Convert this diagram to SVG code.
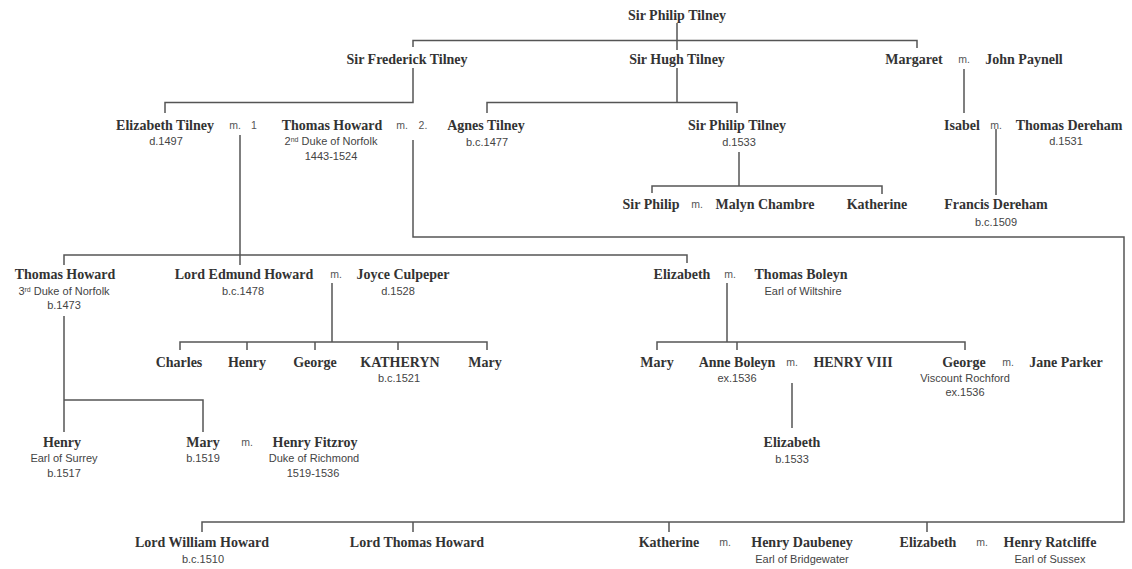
<svg xmlns="http://www.w3.org/2000/svg" width="1132" height="569" viewBox="0 0 1132 569">
  <style>
    .n { font-family: "Liberation Serif", "Times New Roman", serif; font-weight: bold; font-size: 14px; fill: #333; text-anchor: middle; }
    .s { font-family: "Liberation Sans", Arial, sans-serif; font-size: 11px; fill: #444; text-anchor: middle; }
    .m { font-family: "Liberation Sans", Arial, sans-serif; font-size: 10.5px; fill: #555; text-anchor: middle; }
    .sup { font-size: 7px; }
    .c { fill: none; stroke: #555; stroke-width: 1.5; }
  </style>
  <rect width="1132" height="569" fill="#fff"/>

  <!-- family lines -->
  <g id="connectors" class="c">
    <!-- Sir Philip Tilney's children -->
    <path d="M677 23V50M413 47V40.5H917V48"/>
    <!-- Sir Frederick Tilney -> Elizabeth -->
    <path d="M413 68V102.5H165V113"/>
    <!-- Sir Hugh Tilney -> Agnes, Sir Philip -->
    <path d="M677 68V102.5M487 113V102.5H737V113"/>
    <!-- Margaret & John Paynell -> Isabel -->
    <path d="M964 69V113"/>
    <!-- Isabel & Thomas Dereham -> Francis -->
    <path d="M996 129V195"/>
    <!-- Sir Philip Tilney (d.1533) -> Sir Philip, Katherine -->
    <path d="M739 152V186M652 193V186H882V194"/>
    <!-- first marriage -->
    <path d="M240 135V265M64 265V255H687V263"/>
    <!-- second marriage -->
    <path d="M413 140V237H1124V522H202V532M413 522V532M669 522V532M927 522V532"/>
    <!-- Lord Edmund Howard & Joyce Culpeper -->
    <path d="M332 283V342M180 350V342H487V350M247 342V350M315 342V350M398 342V350"/>
    <!-- Elizabeth & Thomas Boleyn -->
    <path d="M727 283V342M657 350V342H965V350M737 342V350"/>
    <!-- Thomas Howard, 3rd Duke -->
    <path d="M64 316V432M64 400H203V432"/>
    <!-- Anne Boleyn & Henry VIII -->
    <path d="M792 383V428"/>
  </g>

  <!-- marriage marks -->
  <g id="marriages">
    <text class="m" x="964" y="63">m.</text>
    <text class="m" x="235" y="129">m.</text>
    <text class="m" x="254" y="129">1</text>
    <text class="m" x="402" y="129">m.</text>
    <text class="m" x="423" y="129">2.</text>
    <text class="m" x="996" y="129">m.</text>
    <text class="m" x="697" y="208">m.</text>
    <text class="m" x="336" y="278">m.</text>
    <text class="m" x="730" y="278">m.</text>
    <text class="m" x="792" y="366">m.</text>
    <text class="m" x="1008" y="366">m.</text>
    <text class="m" x="247" y="446">m.</text>
    <text class="m" x="725" y="546">m.</text>
    <text class="m" x="982" y="546">m.</text>
  </g>

  <!-- generation 1 -->
  <g id="sir-philip-tilney"><text class="n" x="677" y="20">Sir Philip Tilney</text></g>

  <!-- generation 2 -->
  <g id="sir-frederick-tilney"><text class="n" x="407" y="64">Sir Frederick Tilney</text></g>
  <g id="sir-hugh-tilney"><text class="n" x="677" y="64">Sir Hugh Tilney</text></g>
  <g id="margaret"><text class="n" x="914" y="64">Margaret</text></g>
  <g id="john-paynell"><text class="n" x="1024" y="64">John Paynell</text></g>

  <!-- generation 3 -->
  <g id="elizabeth-tilney">
    <text class="n" x="165" y="130">Elizabeth Tilney</text>
    <text class="s" x="166" y="145">d.1497</text>
  </g>
  <g id="thomas-howard-2nd">
    <text class="n" x="332" y="130">Thomas Howard</text>
    <text class="s" x="331" y="145">2<tspan class="sup" baseline-shift="super">nd</tspan> Duke of Norfolk</text>
    <text class="s" x="331" y="160">1443-1524</text>
  </g>
  <g id="agnes-tilney">
    <text class="n" x="486" y="130">Agnes Tilney</text>
    <text class="s" x="487" y="146">b.c.1477</text>
  </g>
  <g id="sir-philip-tilney-d1533">
    <text class="n" x="737" y="130">Sir Philip Tilney</text>
    <text class="s" x="739" y="146">d.1533</text>
  </g>
  <g id="isabel"><text class="n" x="962" y="130">Isabel</text></g>
  <g id="thomas-dereham">
    <text class="n" x="1069" y="130">Thomas Dereham</text>
    <text class="s" x="1066" y="145">d.1531</text>
  </g>

  <!-- generation 4 (Tilney / Dereham) -->
  <g id="sir-philip"><text class="n" x="651" y="209">Sir Philip</text></g>
  <g id="malyn-chambre"><text class="n" x="765" y="209">Malyn Chambre</text></g>
  <g id="katherine-tilney"><text class="n" x="877" y="209">Katherine</text></g>
  <g id="francis-dereham">
    <text class="n" x="996" y="209">Francis Dereham</text>
    <text class="s" x="996" y="226">b.c.1509</text>
  </g>

  <!-- Howard children -->
  <g id="thomas-howard-3rd">
    <text class="n" x="65" y="279">Thomas Howard</text>
    <text class="s" x="64" y="295">3<tspan class="sup" baseline-shift="super">rd</tspan> Duke of Norfolk</text>
    <text class="s" x="64" y="309">b.1473</text>
  </g>
  <g id="lord-edmund-howard">
    <text class="n" x="244" y="279">Lord Edmund Howard</text>
    <text class="s" x="243" y="295">b.c.1478</text>
  </g>
  <g id="joyce-culpeper">
    <text class="n" x="403" y="279">Joyce Culpeper</text>
    <text class="s" x="398" y="295">d.1528</text>
  </g>
  <g id="elizabeth-howard"><text class="n" x="682" y="279">Elizabeth</text></g>
  <g id="thomas-boleyn">
    <text class="n" x="801" y="279">Thomas Boleyn</text>
    <text class="s" x="803" y="295">Earl of Wiltshire</text>
  </g>

  <!-- Culpeper children -->
  <g id="charles"><text class="n" x="179" y="367">Charles</text></g>
  <g id="henry-culpeper"><text class="n" x="247" y="367">Henry</text></g>
  <g id="george-culpeper"><text class="n" x="315" y="367">George</text></g>
  <g id="katheryn">
    <text class="n" x="400" y="367">KATHERYN</text>
    <text class="s" x="399" y="382">b.c.1521</text>
  </g>
  <g id="mary-culpeper"><text class="n" x="485" y="367">Mary</text></g>

  <!-- Boleyn children -->
  <g id="mary-boleyn"><text class="n" x="657" y="367">Mary</text></g>
  <g id="anne-boleyn">
    <text class="n" x="737" y="367">Anne Boleyn</text>
    <text class="s" x="737" y="382">ex.1536</text>
  </g>
  <g id="henry-viii"><text class="n" x="853" y="367">HENRY VIII</text></g>
  <g id="george-boleyn">
    <text class="n" x="964" y="367">George</text>
    <text class="s" x="965" y="382">Viscount Rochford</text>
    <text class="s" x="965" y="396">ex.1536</text>
  </g>
  <g id="jane-parker"><text class="n" x="1066" y="367">Jane Parker</text></g>

  <!-- 3rd Duke's children -->
  <g id="henry-surrey">
    <text class="n" x="62" y="447">Henry</text>
    <text class="s" x="64" y="462">Earl of Surrey</text>
    <text class="s" x="64" y="477">b.1517</text>
  </g>
  <g id="mary-howard">
    <text class="n" x="203" y="447">Mary</text>
    <text class="s" x="203" y="462">b.1519</text>
  </g>
  <g id="henry-fitzroy">
    <text class="n" x="315" y="447">Henry Fitzroy</text>
    <text class="s" x="314" y="462">Duke of Richmond</text>
    <text class="s" x="313" y="477">1519-1536</text>
  </g>
  <g id="elizabeth-tudor">
    <text class="n" x="792" y="447">Elizabeth</text>
    <text class="s" x="792" y="463">b.1533</text>
  </g>

  <!-- second marriage children -->
  <g id="lord-william-howard">
    <text class="n" x="202" y="547">Lord William Howard</text>
    <text class="s" x="203" y="563">b.c.1510</text>
  </g>
  <g id="lord-thomas-howard"><text class="n" x="417" y="547">Lord Thomas Howard</text></g>
  <g id="katherine-howard"><text class="n" x="669" y="547">Katherine</text></g>
  <g id="henry-daubeney">
    <text class="n" x="802" y="547">Henry Daubeney</text>
    <text class="s" x="802" y="563">Earl of Bridgewater</text>
  </g>
  <g id="elizabeth-howard-2"><text class="n" x="928" y="547">Elizabeth</text></g>
  <g id="henry-ratcliffe">
    <text class="n" x="1050" y="547">Henry Ratcliffe</text>
    <text class="s" x="1050" y="563">Earl of Sussex</text>
  </g>
</svg>
